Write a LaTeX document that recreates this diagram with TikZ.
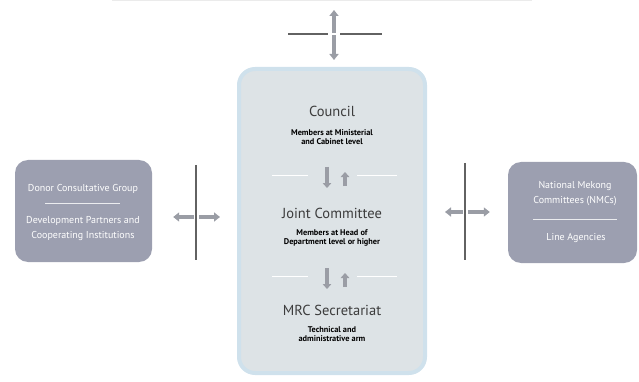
\documentclass[tikz,border=0pt]{standalone}
\usepackage{fontspec}
\setmainfont{PT Sans}
\usetikzlibrary{positioning,arrows.meta}
\definecolor{boxfill}{HTML}{DDE3E6}
\definecolor{boxedge}{HTML}{CFE1EC}
\definecolor{sidefill}{HTML}{9C9FB0}
\definecolor{titlegray}{HTML}{3C3C3C}
\definecolor{arrowgray}{HTML}{9A9DA5}
\definecolor{linegray}{HTML}{626262}
\tikzset{
  mainbox/.style={draw=boxedge,fill=boxfill,line width=4pt,rounded corners=16pt,
    minimum width=186pt,minimum height=304pt},
  sidebox/.style={fill=sidefill,rounded corners=13pt},
  title/.style={text=titlegray,font=\fontsize{14.5}{16}\selectfont,inner sep=0pt},
  subtitle/.style={font=\bfseries\fontsize{8.3}{9.5}\selectfont,align=center,inner sep=0pt},
  sidetext/.style={text=white,font=\fontsize{10}{15}\selectfont,align=center,inner sep=0pt},
  sepline/.style={white,line width=0.8pt},
  sidesep/.style={white!80!sidefill,line width=0.7pt},
  blockarrow/.style={arrowgray,line width=4.5pt,-{Triangle[width=8.5pt,length=5pt]}},
  crossline/.style={linegray,line width=1.3pt},
  crossarrow/.style={arrowgray,line width=4.5pt,
    {Triangle[width=9pt,length=6pt]}-{Triangle[width=9pt,length=6pt]}},
}
\begin{document}
\begin{tikzpicture}[x=1pt,y=-1pt]
\useasboundingbox (0,0) rectangle (639,382);
% edge of the box above, cut off
\draw[black!8,line width=1pt] (112,1) -- (532,1);

% boxes
\node[mainbox] (centre) at (332,221) {};
\node[sidebox,minimum width=137pt,minimum height=102pt] (donor) at (83.5,211) {};
\node[sidebox,minimum width=129pt,minimum height=101pt] (nmc) at (572.5,212.5) {};

% centre texts
\node[title] (council) at (332,111) {Council};
\node[subtitle] (councilsub) at (332,137) {Members at Ministerial\\and Cabinet level};
\node[title] (jointcom) at (332,213) {Joint Committee};
\node[subtitle] (jointsub) at (332,238) {Members at Head of\\Department level or higher};
\node[title] (secretariat) at (332,310) {MRC Secretariat};
\node[subtitle] (secretsub) at (332,334) {Technical and\\administrative arm};

% separators with up and down arrows
\coordinate (sep1) at (336,175);
\coordinate (sep2) at (336,276);
\foreach \s in {sep1,sep2}{
  \draw[sepline] ([xshift=-64pt]\s) -- ([xshift=-28pt]\s);
  \draw[sepline] ([xshift=21pt]\s) -- ([xshift=61pt]\s);
  \draw[blockarrow] ([xshift=-9pt,yshift=8pt]\s) -- ([xshift=-9pt,yshift=-13pt]\s);
  \draw[blockarrow] ([xshift=9pt,yshift=-11pt]\s) -- ([xshift=9pt,yshift=3pt]\s);
}

% side texts
\node[sidetext] (donorname) at (83,189) {Donor Consultative Group};
\draw[sidesep] (45,203) -- (120,203);
\node[sidetext] (partners) at (83,229) {Development Partners and\\Cooperating Institutions};
\node[sidetext] (nmcname) at (575,194) {National Mekong\\Committees (NMCs)};
\draw[sidesep] (533,219) -- (617,219);
\node[sidetext] (lineagencies) at (576,238) {Line Agencies};

% left cross
\coordinate (lc) at (196,217);
\draw[crossarrow,shorten <=21pt,shorten >=17pt] (donor.east |- lc) -- (centre.west |- lc);
\draw[white,line width=5pt] ([yshift=7pt]lc) -- ([yshift=-7pt]lc);
\draw[crossline] ([yshift=52pt]lc) -- ([yshift=-43pt]lc);

% right cross
\coordinate (rc) at (465,212);
\draw[crossarrow,shorten <=18pt,shorten >=18pt] (centre.east |- rc) -- (nmc.west |- rc);
\draw[white,line width=5pt] ([yshift=7pt]rc) -- ([yshift=-7pt]rc);
\draw[crossline] ([yshift=49pt]rc) -- ([yshift=-48pt]rc);

% top cross
\coordinate (tc) at (334,34);
\coordinate (above) at (334,10);
\draw[crossline] ([xshift=-46pt]tc) -- ([xshift=48pt]tc);
\draw[white,line width=11pt] ([xshift=-5pt]tc) -- ([xshift=5pt]tc);
\draw[crossarrow,shorten <=7pt] (centre.north -| tc) -- (above);
\draw[white,line width=1.5pt] ([xshift=-6pt]tc) -- ([xshift=6pt]tc);
\end{tikzpicture}
\end{document}
